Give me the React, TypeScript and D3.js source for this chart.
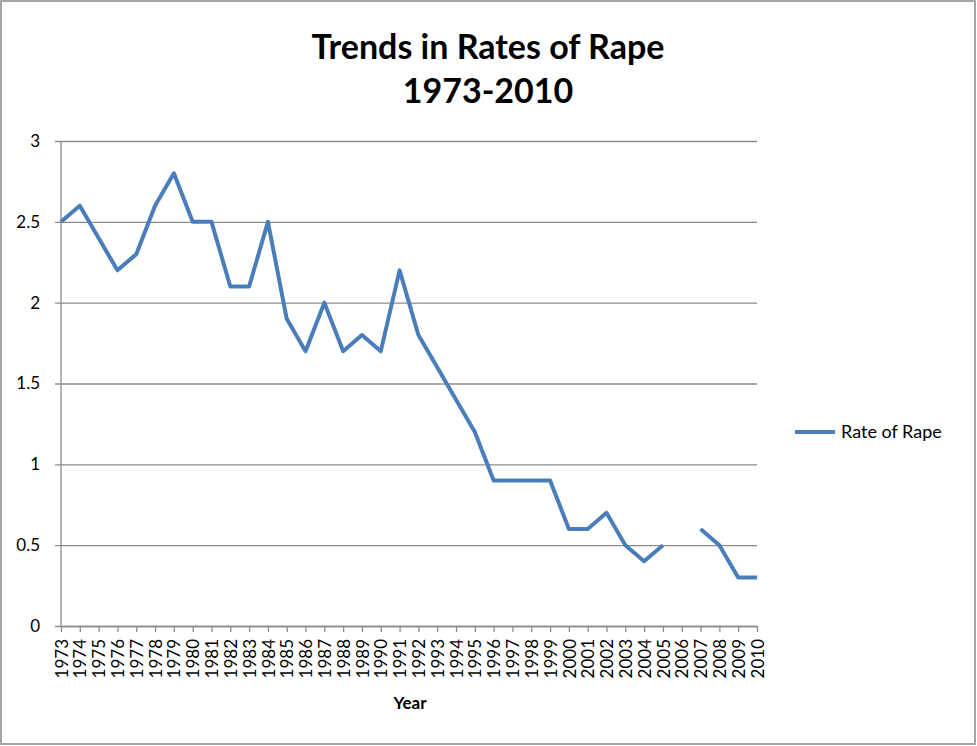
import React, { useRef, useEffect } from "react";
import * as d3 from "d3";

// Data
const years: string[] = [
  "1973", "1974", "1975", "1976", "1977", "1978", "1979", "1980", "1981", "1982",
  "1983", "1984", "1985", "1986", "1987", "1988", "1989", "1990", "1991", "1992",
  "1993", "1994", "1995", "1996", "1997", "1998", "1999", "2000", "2001", "2002",
  "2003", "2004", "2005", "2006", "2007", "2008", "2009", "2010",
];
const rapeRate: (number | null)[] = [
  2.5, 2.6, 2.4, 2.2, 2.3, 2.6, 2.8, 2.5, 2.5, 2.1,
  2.1, 2.5, 1.9, 1.7, 2.0, 1.7, 1.8, 1.7, 2.2, 1.8,
  1.6, 1.4, 1.2, 0.9, 0.9, 0.9, 0.9, 0.6, 0.6, 0.7,
  0.5, 0.4, 0.5, null, 0.6, 0.5, 0.3, 0.3,
];
const yTicks: number[] = [0, 0.5, 1, 1.5, 2, 2.5, 3];
const titleLines: string[] = ["Trends in Rates of Rape", "1973-2010"];
const seriesName = "Rate of Rape";
const xAxisTitle = "Year";

const App: React.FC = () => {
  const ref = useRef<SVGSVGElement | null>(null);
  const width = 977;
  const height = 746;
  const margin = { top: 141, left: 61 };
  const plotW = 696;
  const plotH = 485;
  const font = "Lato, 'Open Sans', sans-serif";
  const lineColor = "#4a7ebb";
  const axisColor = "#8c8c8c";

  useEffect(() => {
    if (!ref.current) return;
    const svg = d3.select(ref.current);
    svg.selectAll("*").remove();

    // Outer frame
    svg
      .append("rect")
      .attr("x", 1)
      .attr("y", 1)
      .attr("width", width - 3)
      .attr("height", height - 3)
      .attr("fill", "white")
      .attr("stroke", "#a6a6a6")
      .attr("stroke-width", 2);

    const g = svg
      .append("g")
      .attr("transform", `translate(${margin.left},${margin.top})`);

    const x = d3.scalePoint<string>().domain(years).range([0, plotW]);
    const y = d3.scaleLinear().domain([0, 3]).range([plotH, 0]);

    // Gridlines + y labels
    const yAxis = d3
      .axisLeft(y)
      .tickValues(yTicks)
      .tickSize(-plotW)
      .tickSizeOuter(0)
      .tickPadding(21)
      .tickFormat((d) => String(d));
    const yG = g.append("g").call(yAxis);
    yG.select(".domain").remove();
    yG.selectAll(".tick line")
      .attr("x1", -6)
      .attr("stroke", axisColor)
      .attr("stroke-width", 1.3);
    yG.selectAll(".tick text")
      .attr("font-family", font)
      .attr("font-size", 17)
      .attr("fill", "#000");

    // Vertical axis line
    g.append("line")
      .attr("x1", 0)
      .attr("x2", 0)
      .attr("y1", 0)
      .attr("y2", plotH)
      .attr("stroke", axisColor)
      .attr("stroke-width", 1.3);

    // X axis
    const xAxis = d3.axisBottom(x).tickSize(6).tickSizeOuter(0);
    const xG = g
      .append("g")
      .attr("transform", `translate(0,${plotH})`)
      .call(xAxis);
    xG.select(".domain").attr("stroke", axisColor).attr("stroke-width", 1.3);
    xG.selectAll(".tick line").attr("stroke", axisColor).attr("stroke-width", 1.3);
    xG.selectAll(".tick text")
      .attr("font-family", font)
      .attr("font-size", 17)
      .attr("fill", "#000")
      .attr("transform", "rotate(-90)")
      .attr("text-anchor", "end")
      .attr("x", -13)
      .attr("y", 0)
      .attr("dy", "0.36em");

    // Series line (gap for missing year)
    const line = d3
      .line<number | null>()
      .defined((d) => d !== null)
      .x((_, i) => x(years[i])!)
      .y((d) => y(d as number));
    g.append("path")
      .datum(rapeRate)
      .attr("d", line)
      .attr("fill", "none")
      .attr("stroke", lineColor)
      .attr("stroke-width", 4)
      .attr("stroke-linejoin", "round");

    // Title
    svg
      .append("text")
      .attr("y", 59)
      .attr("text-anchor", "middle")
      .attr("font-family", font)
      .attr("font-weight", "bold")
      .attr("font-size", 34)
      .selectAll("tspan")
      .data(titleLines)
      .enter()
      .append("tspan")
      .attr("x", 488)
      .attr("dy", (_, i) => (i === 0 ? 0 : 44))
      .text((d) => d);

    // X axis title
    svg
      .append("text")
      .attr("x", 410)
      .attr("y", 709)
      .attr("text-anchor", "middle")
      .attr("font-family", font)
      .attr("font-weight", "bold")
      .attr("font-size", 17)
      .text(xAxisTitle);

    // Legend
    const lg = svg.append("g").attr("transform", "translate(795,432)");
    lg.append("line")
      .attr("x1", 0)
      .attr("x2", 40)
      .attr("stroke", lineColor)
      .attr("stroke-width", 4);
    lg.append("text")
      .attr("x", 46)
      .attr("dy", "0.36em")
      .attr("font-family", font)
      .attr("font-size", 18)
      .text(seriesName);
  }, []);

  return (
    <svg
      ref={ref}
      width={width}
      height={height}
      style={{ display: "block", position: "absolute", left: 0, top: 0 }}
    />
  );
};

export default App;
